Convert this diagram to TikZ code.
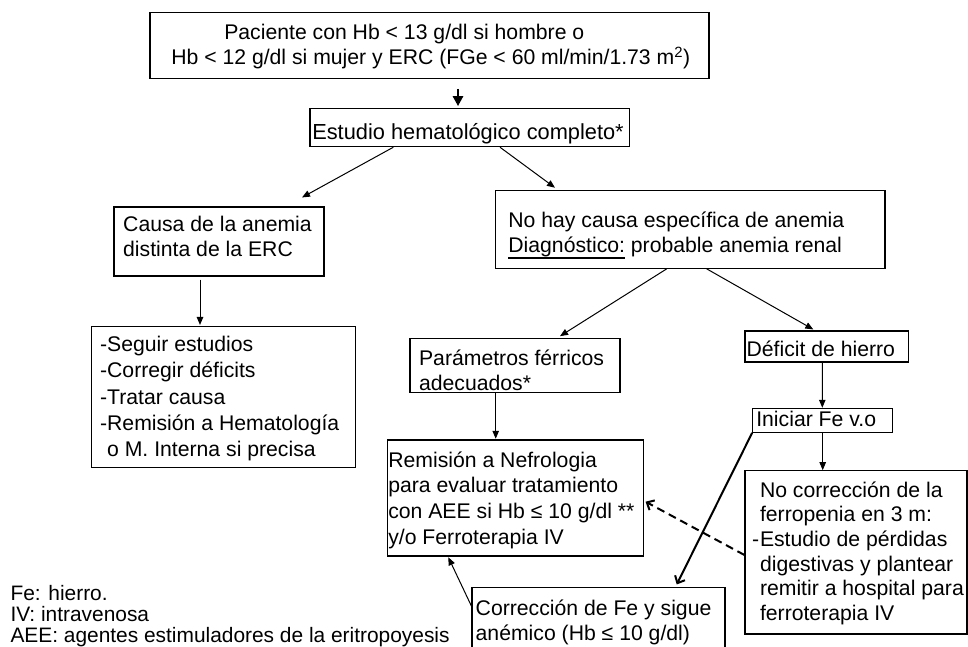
\documentclass[tikz,border=0pt]{standalone}
\usepackage{fontspec}
\setmainfont{Liberation Sans}
\usetikzlibrary{arrows.meta}
\def\bxfs{21.2pt}
% #1 width, #2 left indent, #3 raise of first baseline, #4 line spacing, #5 rows
\newcommand\bx[5]{\makebox[#1][l]{\hspace*{#2}\raisebox{#3}[0pt][0pt]{\fontsize{\bxfs}{#4}\selectfont\begin{tabular}[t]{@{}l@{}}#5\end{tabular}}}}
\newcommand\ulx[1]{\setbox0\hbox{#1}\rlap{\rule[-6pt]{\wd0}{2pt}}\box0\relax}
\tikzset{
  box/.style={draw, line width=1.1pt, inner sep=0pt, rectangle},
  arr/.style={line width=1pt, -{Triangle[length=8pt,width=6.5pt]}},
  thickarr/.style={line width=2.7pt, -{Triangle[length=10pt,width=10pt]}},
  barb/.style={line width=2pt, -{Straight Barb[length=6pt,width=11pt]}},
  dasharr/.style={barb, dash pattern=on 8pt off 5pt},
}
\begin{document}
\begin{tikzpicture}[x=1pt,y=-1pt]
\useasboundingbox (0,0) rectangle (968,647);
\fill[white] (0,0) rectangle (968,647);
\clip (0,0) rectangle (968,647);

\node[box, minimum width=559pt, minimum height=66pt] (T) at (429.5,45.3)
  {\bx{559pt}{21.3pt}{6pt}{25.7pt}{\hspace*{53pt}Paciente con Hb < 13 g/dl si hombre o\\
   Hb < 12 g/dl si mujer y ERC (FGe < 60 ml/min/1.73 m\textsuperscript{2})}};

\node[box, minimum width=319.3pt, minimum height=38.4pt] (E) at (469.65,127.5)
  {\def\bxfs{21.8pt}\bx{319.3pt}{2.3pt}{-12.5pt}{25pt}{Estudio hematológico completo*}};

\node[box, minimum width=210pt, minimum height=69pt] (C) at (219,241.5)
  {\bx{210pt}{9.2pt}{9.8pt}{25pt}{Causa de la anemia\\distinta de la ERC}};

\node[box, minimum width=264.4pt, minimum height=141pt] (L) at (223.5,397.2)
  {\bx{264.4pt}{8.8pt}{45.5pt}{26.2pt}{-Seguir estudios\\-Corregir déficits\\-Tratar causa\\-Remisión a Hematología\\\phantom{-}o M. Interna si precisa}};

\node[box, minimum width=389.3pt, minimum height=77.6pt] (N) at (690.35,229.5)
  {\bx{389.3pt}{12.7pt}{2.2pt}{25.4pt}{No hay causa específica de anemia\\\ulx{Diagnóstico:} probable anemia renal}};

\node[box, minimum width=210pt, minimum height=54pt] (P) at (515,365.7)
  {\bx{210pt}{9.1pt}{0.7pt}{25pt}{Parámetros férricos\\adecuados*}};

\node[box, minimum width=163.3pt, minimum height=31pt] (D) at (826.65,346.5)
  {\bx{163.3pt}{1.6pt}{-10.2pt}{25pt}{Déficit de hierro}};

\node[box, minimum width=140pt, minimum height=24pt] (I) at (822.7,420.3)
  {\bx{140pt}{3.6pt}{-6.4pt}{25pt}{Iniciar Fe v.o}};

\node[box, minimum width=256pt, minimum height=116pt] (R) at (515.3,498)
  {\bx{256pt}{1pt}{30.7pt}{25.6pt}{Remisión a Nefrologia\\para evaluar tratamiento\\con AEE si Hb ≤ 10 g/dl **\\y/o Ferroterapia IV}};

\node[box, minimum width=222pt, minimum height=163.3pt] (NC) at (856,552.35)
  {\bx{222pt}{7pt}{55.05pt}{24.6pt}{\hspace*{8pt}No corrección de la\\\hspace*{8pt}ferropenia en 3 m:\\\makebox[8pt][l]{-}Estudio de pérdidas\\\hspace*{8pt}digestivas y plantear\\\hspace*{8pt}remitir a hospital para\\\hspace*{8pt}ferroterapia IV}};

\node[box, minimum width=253pt, minimum height=72.7pt] (CO) at (598.5,623.65)
  {\bx{253pt}{3.7pt}{8.65pt}{25pt}{Corrección de Fe y sigue\\anémico (Hb ≤ 10 g/dl)}};

\node[anchor=base west, inner sep=0pt] (LG) at (10.3,600)
  {\fontsize{20.9pt}{20.3pt}\selectfont\begin{tabular}[t]{@{}l@{}}Fe: hierro.\\IV: intravenosa\\AEE: agentes estimuladores de la eritropoyesis\end{tabular}};

% connectors
\draw[thickarr] ([xshift=28.5pt,yshift=-10pt]T.south) -- ([xshift=-11.65pt,yshift=1.6pt]E.north);
\draw[arr] ([xshift=-76.35pt]E.south) -- ([xshift=83pt,yshift=9pt]C.north);
\draw[arr] ([xshift=30.35pt]E.south) -- ([xshift=-135.35pt,yshift=2.4pt]N.north);
\draw[arr] ([xshift=-19pt,yshift=-3pt]C.south) -- ([xshift=-23.5pt,yshift=1.2pt]L.north);
\draw[arr] ([xshift=-23.65pt]N.south) -- ([xshift=45pt,yshift=2pt]P.north);
\draw[arr] ([xshift=16.35pt]N.south) -- ([xshift=-13.35pt,yshift=1pt]D.north);
\draw[arr] ([xshift=-19.3pt]P.south) -- ([xshift=-19.6pt,yshift=0.7pt]R.north);
\draw[arr] ([xshift=-4.35pt]D.south) -- ([xshift=-0.4pt]I.north);
\draw[arr] (I.south) -- ([xshift=-33.3pt]NC.north);
\draw[barb] (I.south west) -- ([xshift=78.2pt,yshift=2.3pt]CO.north);
\draw[dasharr] ([yshift=-2.65pt]NC.west) -- ([xshift=1.7pt,yshift=-3.7pt]R.east);
\draw[arr] ([yshift=-19.4pt]CO.north west) -- ([xshift=-67pt,yshift=-0.7pt]R.south);
\end{tikzpicture}
\end{document}
